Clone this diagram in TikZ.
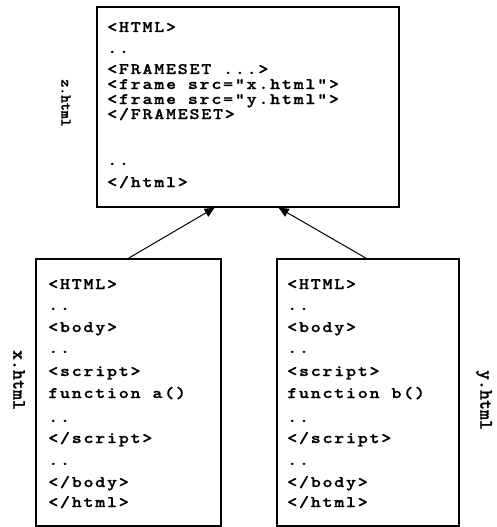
\documentclass[tikz,border=0pt]{standalone}
\usepackage{fontspec}
\newfontfamily\codefont{lmmonolt10-bold.otf}[LetterSpace=10.5,FakeStretch=1.2,FakeBold=1]
\newfontfamily\lblfont{lmmonolt10-bold.otf}[FakeBold=1]
\usetikzlibrary{calc,arrows.meta}
\begin{document}
\begin{tikzpicture}[x=1pt,y=-1pt,
  filebox/.style={draw,line width=1.5pt,inner sep=0pt},
  code/.style={anchor=base west,inner sep=0pt,font=\codefont\fontsize{16}{16}\selectfont},
  lbl/.style={rotate=-90,inner sep=0pt,font=\lblfont\fontsize{19}{19}\selectfont},
  smalllbl/.style={rotate=-90,inner sep=0pt,font=\lblfont\fontsize{15}{15}\selectfont},
  link/.style={line width=1pt,-{Triangle[length=10pt,width=9pt]}}]
\fill[white] (0,0) rectangle (497,527);
\useasboundingbox (0,0) rectangle (497,527);
% boxes
\node[filebox,minimum width=302pt,minimum height=200pt] (z) at (248,107) {};
\node[filebox,minimum width=185pt,minimum height=267pt] (xb) at (128.5,392.5) {};
\node[filebox,minimum width=182pt,minimum height=267pt] (yb) at (368,392.5) {};
% labels
\node[smalllbl] (zl) at (66,103) {z.html};
\node[lbl] (xl) at (19,380) {x.html};
\node[lbl] (yl) at (484,400) {y.html};
% code in z.html
\foreach \yy/\txt [count=\i] in {32/{<HTML>},53/{..},74/{<FRAMESET ...>},89/{<frame src="x.html">},104/{<frame src="y.html">},119/{</FRAMESET>},165/{..},187/{</html>}}
  \node[code] (z\i) at (107,\yy) {\txt};
% code in x.html
\foreach \yy/\txt [count=\i] in {289/{<HTML>},310/{..},332/{<body>},353/{..},376/{<script>},398/{function a()},422/{..},443/{</script>},465/{..},487/{</body>},507/{</html>}}
  \node[code] (x\i) at (48,\yy) {\txt};
% code in y.html
\foreach \yy/\txt [count=\i] in {289/{<HTML>},310/{..},332/{<body>},353/{..},376/{<script>},398/{function b()},422/{..},443/{</script>},465/{..},487/{</body>},507/{</html>}}
  \node[code] (y\i) at (287,\yy) {\txt};
% connectors
\draw[link] (xb.north) -- ($(z.south west)!0.39!(z.south east)$);
\draw[link] ($(yb.north west)!0.49!(yb.north east)$) -- ($(z.south west)!0.601!(z.south east)$);
\end{tikzpicture}
\end{document}
